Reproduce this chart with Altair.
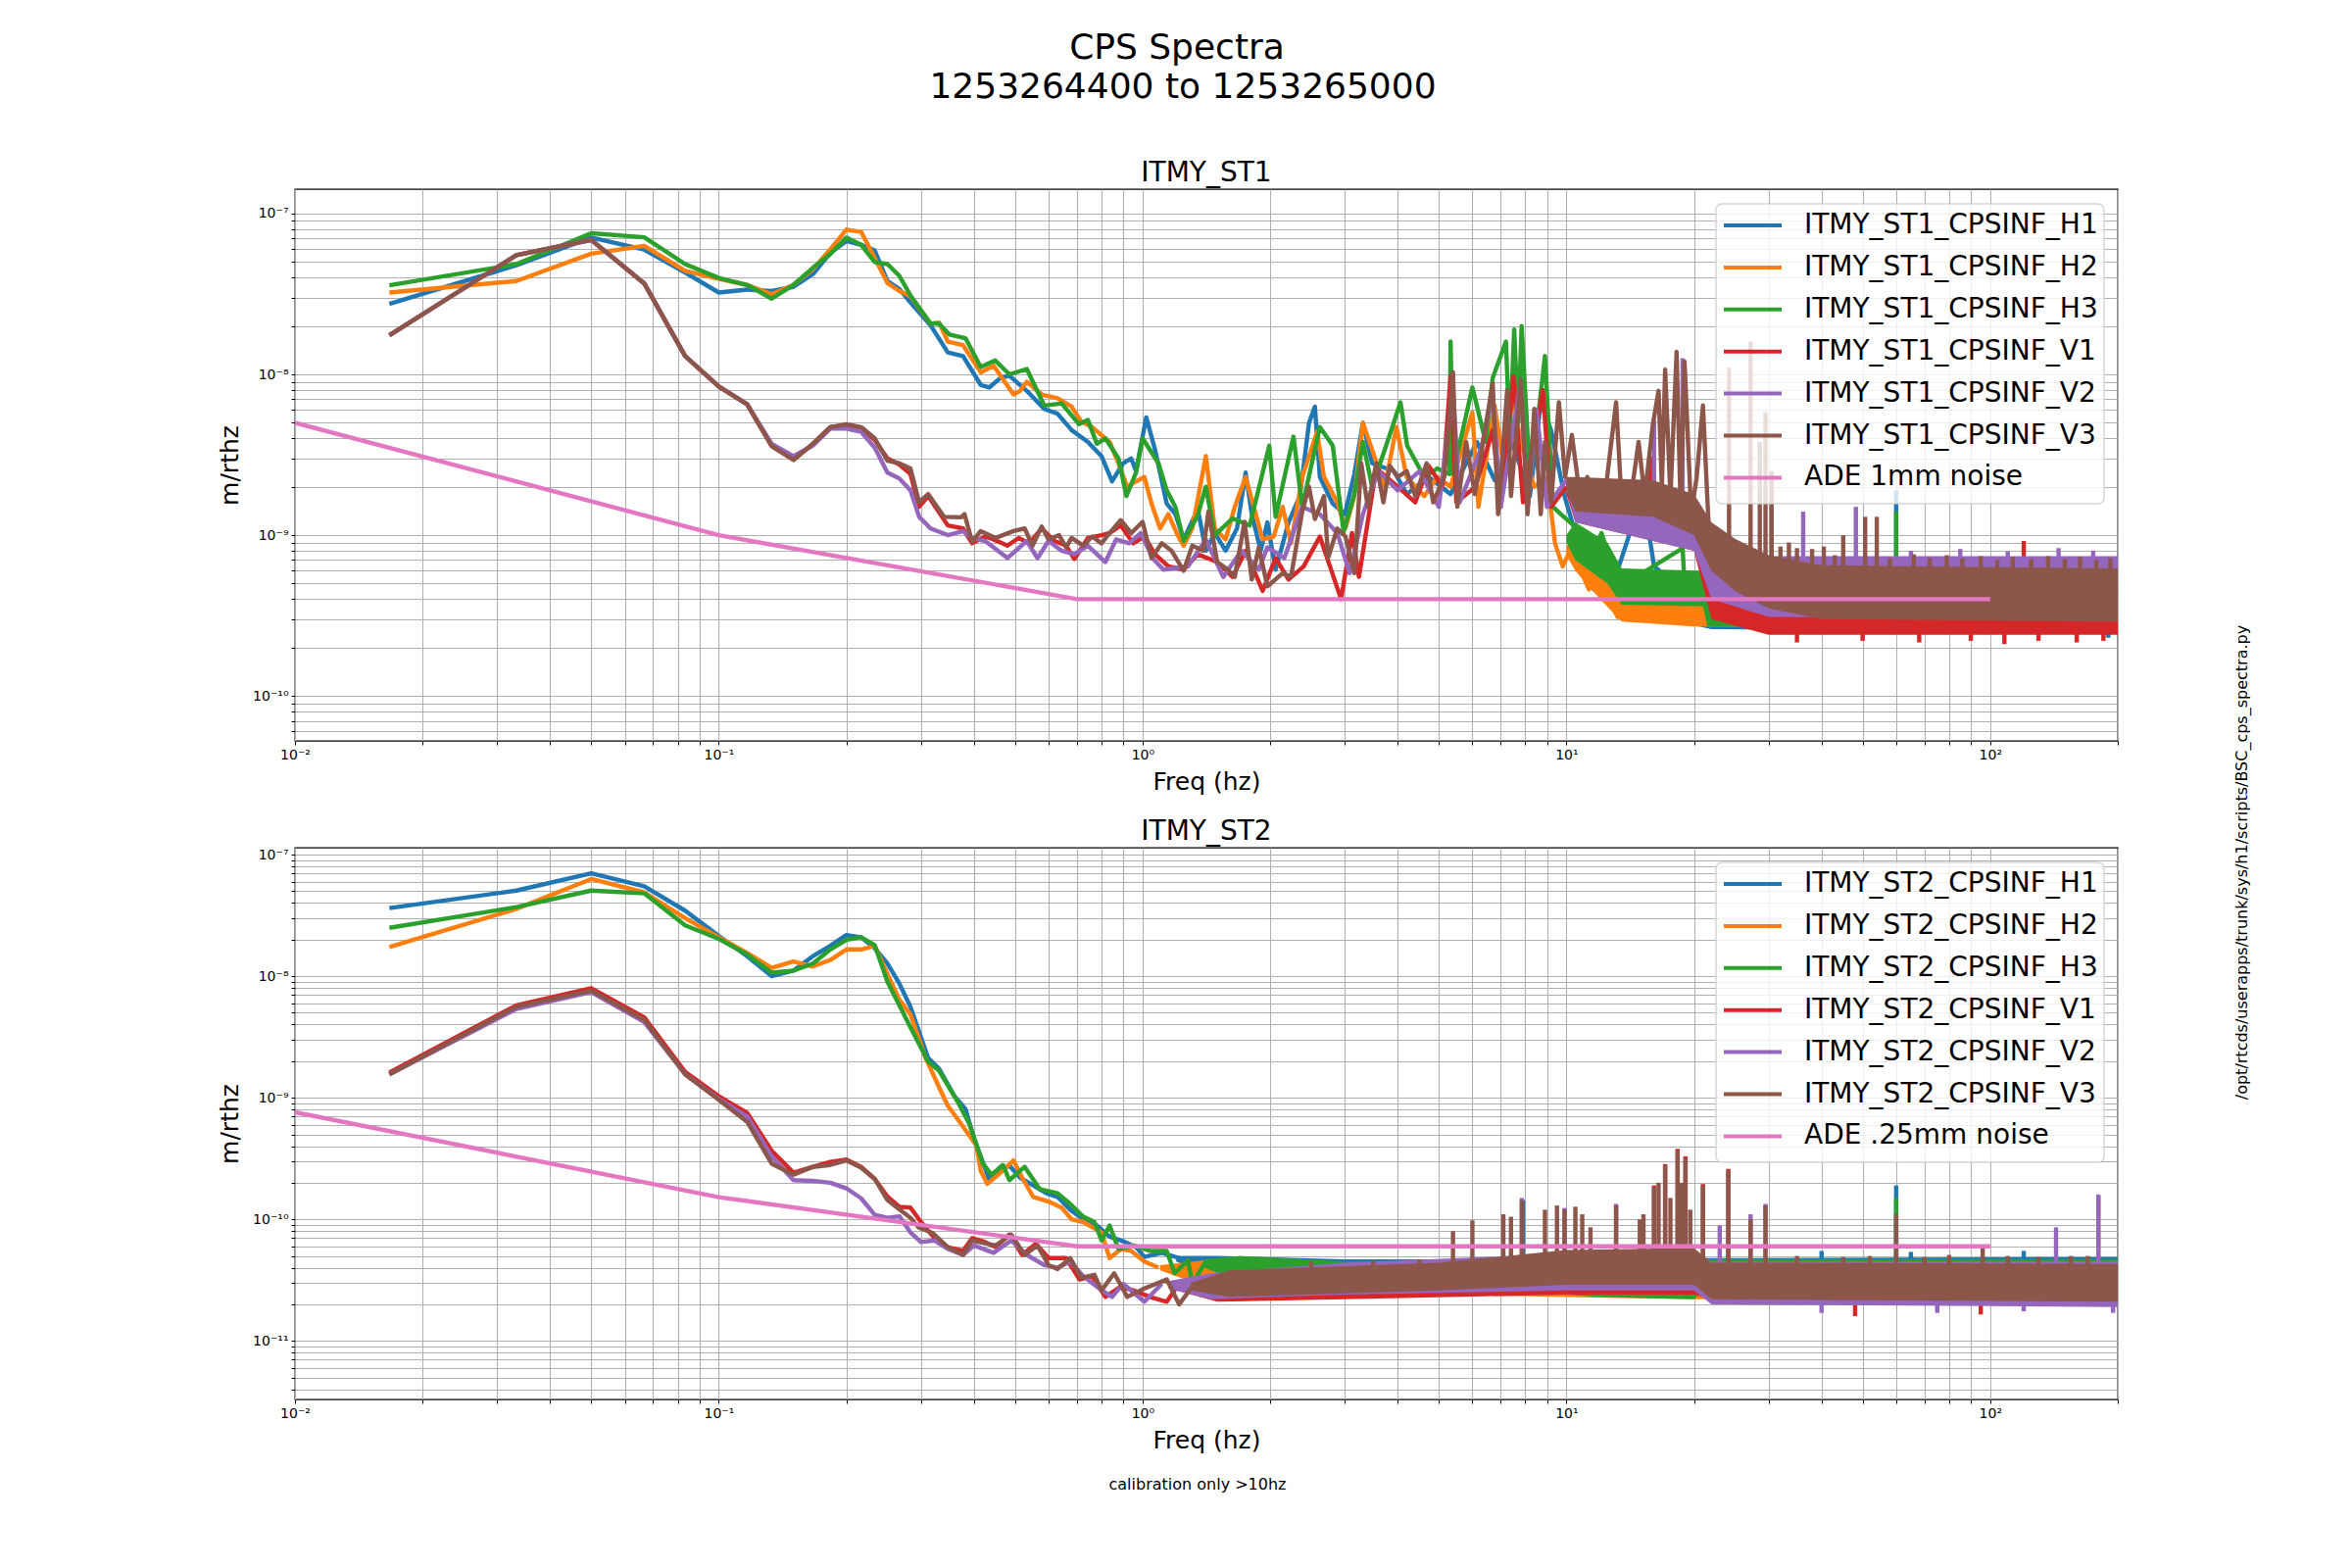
import altair as alt
import pandas as pd

# ---------------- data (values in nm/rtHz = 1e-9 m/rtHz) ----------------
F_LOW = [0.0167, 0.0333, 0.05, 0.0667, 0.0833, 0.1, 0.1167, 0.1333, 0.15,
         0.1667, 0.1833, 0.2, 0.2167, 0.2333, 0.25, 0.2667, 0.2833]

# ---- ITMY_ST1 ----
T_H1_LOW = [27.4, 47.7, 71, 59.7, 43, 32.3, 33.7, 33, 35, 42, 57, 67.6, 64, 59, 38, 34, 28]
T_H2_LOW = [32.3, 38.1, 56.3, 63, 44.1, 39.2, 36, 31.5, 36, 45, 60, 79.5, 77, 53, 37, 33, 30.6]
T_H3_LOW = [35.8, 48.5, 75.5, 71.3, 48.5, 39.8, 36, 29.6, 36, 46, 56, 71, 64, 50, 48.5, 41, 31]
T_V1_LOW = [17.5, 55.2, 68.7, 36.8, 13, 8.4, 6.5, 3.58, 2.94, 3.7, 4.7, 4.8, 4.64, 3.9, 3.0, 2.75, 2.4]
T_V2_LOW = [17.5, 55.2, 68.7, 36.8, 13, 8.4, 6.5, 3.7, 3.1, 3.6, 4.6, 4.6, 4.4, 3.5, 2.45, 2.25, 1.9]
T_V3_LOW = [17.5, 55.2, 68.7, 36.8, 13, 8.4, 6.5, 3.58, 2.94, 3.7, 4.7, 4.9, 4.7, 4.0, 2.9, 2.8, 2.6]

T_H1_MID = [(0.316, 20.2), (0.347, 13.7), (0.377, 13), (0.415, 8.6), (0.435, 8.3), (0.462, 9.5),
            (0.485, 9.8), (0.533, 7.9), (0.586, 6.1), (0.63, 5.7), (0.68, 4.5), (0.743, 3.8),
            (0.8, 3.1), (0.847, 2.16), (0.9, 2.8), (0.94, 3.0), (0.965, 2.5), (1.02, 5.4),
            (1.07, 3.4), (1.14, 1.57), (1.195, 1.35), (1.25, 0.94), (1.35, 1.45), (1.41, 0.8),
            (1.48, 1.03), (1.57, 0.8), (1.67, 1.1), (1.75, 2.45), (1.81, 1.35), (1.9, 0.8),
            (1.97, 1.2), (2.06, 0.61), (2.21, 1.2), (2.35, 1.75), (2.47, 5.0), (2.55, 6.3),
            (2.62, 2.3), (2.81, 1.57), (3.0, 1.35), (3.16, 2.4), (3.31, 5.0), (3.48, 2.8),
            (3.92, 2.5), (4.2, 1.8), (4.73, 2.3), (5.33, 1.8), (6.15, 3.8), (6.77, 2.2),
            (7.45, 3.8), (8.2, 1.75), (8.7, 6.7), (9.2, 4.5), (9.9, 1.75), (10.8, 0.8),
            (11.6, 0.53), (12.1, 0.55), (12.9, 0.5), (14.6, 1.35), (15.1, 1.5), (15.6, 1.1),
            (16.1, 0.64), (18.8, 0.46), (21, 0.36), (25, 0.35), (200, 0.35)]
T_H2_MID = [(0.316, 20.7), (0.331, 21), (0.347, 16), (0.377, 15.2), (0.415, 10.3), (0.445, 11.3),
            (0.496, 7.5), (0.514, 7.9), (0.533, 9.0), (0.578, 7.5), (0.63, 7.1), (0.68, 6.3),
            (0.716, 5.1), (0.76, 4.7), (0.836, 3.8), (0.877, 2.8), (0.92, 2.0), (0.965, 2.16),
            (1.01, 2.3), (1.05, 1.57), (1.1, 1.1), (1.15, 1.35), (1.21, 1.0), (1.25, 0.86),
            (1.31, 1.1), (1.41, 3.1), (1.48, 1.1), (1.57, 0.94), (1.65, 1.5), (1.75, 2.3),
            (1.83, 1.5), (1.92, 0.94), (2.04, 0.98), (2.14, 1.5), (2.24, 0.89), (2.38, 2.3),
            (2.5, 3.4), (2.58, 4.4), (2.68, 2.3), (2.88, 1.6), (3.01, 1.1), (3.16, 1.75),
            (3.31, 5.0), (3.48, 3.4), (3.73, 2.0), (3.97, 4.7), (4.2, 2.3), (4.62, 1.75),
            (4.96, 2.3), (5.33, 2.0), (5.73, 3.8), (6.0, 5.8), (6.2, 1.5), (6.77, 6.4),
            (7.1, 2.8), (7.45, 7.9), (7.8, 3.8), (8.4, 2.0), (9.0, 2.3), (9.4, 0.89),
            (9.8, 0.64), (10.2, 0.8), (10.8, 0.61), (11.3, 0.46), (11.8, 0.57), (12.6, 0.4),
            (13.2, 0.31), (20, 0.34), (200, 0.34)]
T_H3_MID = [(0.316, 20.7), (0.331, 20.7), (0.35, 17.7), (0.382, 16.8), (0.415, 11.1), (0.449, 12.2),
            (0.485, 10.0), (0.533, 10.8), (0.586, 6.4), (0.644, 6.6), (0.708, 4.9), (0.743, 5.2),
            (0.78, 3.7), (0.817, 4.0), (0.877, 3.0), (0.916, 1.75), (0.965, 2.45), (1.0, 4.0),
            (1.09, 2.8), (1.14, 1.9), (1.195, 1.5), (1.25, 0.92), (1.35, 1.33), (1.41, 2.0),
            (1.48, 1.0), (1.63, 1.27), (1.79, 1.15), (1.99, 3.6), (2.06, 1.3), (2.27, 4.1),
            (2.38, 1.5), (2.62, 4.7), (2.81, 3.6), (2.98, 1.05), (3.16, 1.8), (3.31, 3.8),
            (3.48, 2.0), (3.83, 4.2), (4.06, 6.7), (4.21, 3.6), (4.62, 2.3), (4.96, 2.6),
            (5.3, 2.4), (5.33, 16), (5.4, 2.4), (6.0, 8.3), (6.45, 3.8), (6.7, 9.5),
            (7.2, 16), (7.35, 4.0), (7.53, 19), (7.7, 5.0), (7.84, 20), (8.2, 2.3),
            (8.6, 5.8), (8.9, 13), (9.3, 1.5), (9.7, 1.35), (10.4, 1.15), (10.8, 0.98),
            (11.6, 0.8), (12.1, 1.03), (12.9, 0.61), (13.8, 0.5), (18.8, 0.83), (19, 0.5),
            (21.5, 0.46), (22, 0.34), (200, 0.34)]
T_V1_MID = [(0.297, 1.5), (0.312, 1.75), (0.347, 1.15), (0.377, 1.1), (0.396, 0.89), (0.425, 0.98),
            (0.445, 0.94), (0.48, 0.86), (0.51, 0.96), (0.54, 0.89), (0.578, 1.1), (0.62, 0.92),
            (0.66, 0.86), (0.69, 0.71), (0.743, 0.96), (0.8, 1.0), (0.836, 1.03), (0.888, 1.15),
            (0.95, 0.89), (1.01, 0.98), (1.07, 0.76), (1.15, 0.64), (1.25, 0.61), (1.35, 0.76),
            (1.5, 0.68), (1.63, 0.55), (1.75, 0.8), (1.92, 0.45), (2.06, 0.72), (2.21, 0.53),
            (2.4, 0.64), (2.62, 0.98), (2.94, 0.4), (3.12, 1.03), (3.24, 0.55), (3.56, 2.6),
            (4.0, 2.0), (4.4, 1.6), (4.73, 2.7), (5.1, 2.0), (5.33, 9.7), (5.5, 1.6),
            (6.1, 2.0), (6.7, 4.5), (7.0, 1.5), (7.5, 9.7), (7.9, 1.6), (8.8, 8.0),
            (9.2, 1.5), (10, 2.0)]
T_V2_MID = [(0.297, 1.3), (0.316, 1.1), (0.347, 1.0), (0.377, 1.06), (0.396, 0.96), (0.425, 0.92),
            (0.48, 0.72), (0.533, 0.92), (0.565, 0.72), (0.6, 0.92), (0.644, 0.8), (0.69, 0.76),
            (0.743, 0.86), (0.817, 0.68), (0.866, 0.94), (0.93, 0.89), (0.99, 1.03), (1.06, 0.71),
            (1.12, 0.61), (1.28, 0.64), (1.41, 0.94), (1.55, 0.55), (1.71, 0.8), (1.88, 0.61),
            (1.97, 0.84), (2.16, 0.72), (2.38, 1.5), (2.62, 1.35), (2.88, 1.03), (3.08, 0.58),
            (3.31, 1.35), (3.6, 2.5), (4.0, 1.9), (4.5, 2.5), (5.0, 1.5), (5.4, 8.0),
            (5.6, 1.6), (6.3, 3.5), (6.7, 7.5), (7.0, 1.5), (7.8, 9.0), (8.1, 1.5),
            (8.5, 6.0), (9.0, 1.5), (10, 2.2)]
T_V3_MID = [(0.297, 1.6), (0.312, 1.8), (0.34, 1.3), (0.373, 1.29), (0.38, 1.35), (0.396, 0.91),
            (0.415, 1.06), (0.45, 0.96), (0.496, 1.06), (0.527, 1.1), (0.55, 0.86), (0.578, 1.13),
            (0.6, 0.94), (0.635, 1.0), (0.66, 0.84), (0.68, 0.96), (0.725, 0.86), (0.76, 0.98),
            (0.8, 0.89), (0.836, 1.03), (0.888, 1.24), (0.94, 1.03), (1.0, 1.21), (1.05, 0.72),
            (1.11, 0.89), (1.17, 0.8), (1.25, 0.6), (1.31, 0.86), (1.39, 0.8), (1.43, 1.4),
            (1.5, 0.68), (1.59, 0.61), (1.65, 0.55), (1.74, 1.21), (1.81, 0.53), (1.88, 0.84),
            (1.97, 0.48), (2.14, 0.58), (2.24, 0.55), (2.38, 1.4), (2.47, 2.0), (2.55, 1.26),
            (2.68, 1.75), (2.74, 0.72), (2.88, 1.1), (3.01, 0.98), (3.16, 0.58), (3.28, 2.8),
            (3.4, 1.5), (3.56, 2.8), (3.7, 1.6), (3.83, 2.7), (4.0, 2.3), (4.2, 2.5),
            (4.4, 1.75), (4.68, 2.8), (4.85, 1.6), (5.15, 2.3), (5.4, 10.3), (5.53, 1.5),
            (5.8, 3.8), (6.08, 1.8), (6.38, 4.0), (6.7, 8.8), (6.9, 1.35), (7.25, 8.0),
            (7.4, 1.75), (7.8, 9.3), (8.1, 1.35), (8.4, 6.1), (8.7, 1.35), (8.9, 3.8),
            (9.2, 1.6), (9.6, 6.7), (9.93, 2.3), (10.3, 4.2), (10.8, 1.65), (11.2, 2.3),
            (11.8, 1.5), (12.4, 2.0), (13.1, 6.7), (13.5, 1.6), (14.1, 1.5), (14.8, 3.8),
            (15.3, 1.75), (16.0, 4.9), (16.5, 7.9), (16.8, 2.0), (17.1, 10.7), (17.6, 1.75),
            (18.2, 13.8), (18.6, 1.5), (19.0, 12.0), (19.7, 1.35), (20.3, 2.3), (21.0, 6.4),
            (21.7, 1.03), (22.9, 0.98), (24.0, 0.8), (26.0, 0.6), (30.0, 0.5), (40.0, 0.45),
            (200.0, 0.45)]

# noise bands (f, low, high)
T_H1_BAND = [(11, 0.6, 0.75), (11.5, 0.45, 0.9), (13, 0.38, 0.6), (17, 0.3, 0.55), (22, 0.26, 0.45),
             (200, 0.25, 0.45)]
T_H2_BAND = [(10, 0.75, 0.85), (10.5, 0.6, 1.0), (12, 0.4, 0.65), (13.5, 0.29, 0.45), (20, 0.27, 0.42),
             (200, 0.26, 0.43)]
T_H3_BAND = [(10, 0.9, 1.0), (10.5, 0.7, 1.2), (12.5, 0.5, 0.9), (13.5, 0.37, 0.62), (21, 0.36, 0.6),
             (21.5, 0.27, 0.42), (200, 0.26, 0.43)]
T_V1_BAND = [(10, 1.8, 2.1), (10.5, 1.2, 2.2), (20, 0.8, 1.6), (22, 0.3, 0.6), (30, 0.24, 0.46),
             (200, 0.24, 0.46)]
T_V2_BAND = [(10, 2.0, 2.3), (10.5, 1.2, 2.2), (20, 0.8, 1.6), (22, 0.4, 0.8), (30, 0.31, 0.74),
             (200, 0.3, 0.74)]
T_V3_BAND = [(10, 1.9, 2.3), (10.5, 1.4, 2.3), (16, 1.3, 2.2), (20, 1.0, 1.8), (22, 0.6, 1.2),
             (25, 0.45, 0.95), (30, 0.35, 0.75), (40, 0.3, 0.65), (200, 0.29, 0.62)]

# narrow lines (f, base, peak)
T_H1_SPK = [(60, 0.35, 1.9), (190, 0.23, 0.3)]
T_H2_SPK = []
T_H3_SPK = [(60, 0.35, 1.4)]
T_V1_SPK = [(15.8, 1.5, 3.1), (120, 0.35, 0.92), (35, 0.215, 0.3), (50, 0.22, 0.3), (68, 0.215, 0.3),
            (90, 0.22, 0.3), (108, 0.21, 0.3), (130, 0.22, 0.3), (160, 0.215, 0.3), (185, 0.22, 0.3)]
T_V2_SPK = [(16.1, 1.5, 5.2), (18.8, 1.5, 12.6), (36.2, 0.5, 1.4), (48.2, 0.5, 1.5), (65, 0.5, 0.8),
            (85, 0.5, 0.82), (110, 0.5, 0.79), (145, 0.5, 0.83), (175, 0.5, 0.8)]
T_V3_SPK = [(24.2, 0.8, 11), (27.2, 0.6, 16), (28.6, 0.6, 3.8), (29.5, 0.6, 5.8), (30.5, 0.5, 2.5),
            (35, 0.45, 0.83), (45, 0.45, 1.0), (50.7, 0.45, 1.3), (54, 0.45, 1.3),
            (32, 0.45, 0.85), (33.5, 0.45, 0.9), (38, 0.45, 0.82), (40.5, 0.45, 0.85), (43, 0.4, 0.75),
            (58, 0.4, 0.72), (66, 0.4, 0.76), (72, 0.4, 0.72), (79, 0.4, 0.75), (86, 0.4, 0.72),
            (95, 0.4, 0.74), (104, 0.4, 0.7), (113, 0.4, 0.73), (125, 0.4, 0.71), (137, 0.4, 0.74),
            (150, 0.4, 0.71), (163, 0.4, 0.73), (178, 0.4, 0.7), (192, 0.4, 0.72)]

# ---- ITMY_ST2 ----
B_H1_LOW = [36.3, 50.6, 70.3, 55, 34.6, 21.4, 14.6, 10.0, 11.1, 14.6, 17.8, 21.8, 20.9, 17, 12.7, 8.7, 5.6]
B_H2_LOW = [17.4, 35.8, 63, 49, 30, 20.9, 15.5, 11.7, 13.2, 12, 13.6, 16.6, 16.6, 17.8, 10.4, 6.4, 4.85]
B_H3_LOW = [25, 37, 50.6, 48, 26.2, 20.3, 15.1, 10.7, 11.1, 12.7, 16.6, 19.9, 20.9, 18, 9.0, 5.76, 3.8]
B_V1_LOW = [1.61, 5.76, 7.96, 4.59, 1.63, 1.03, 0.75, 0.366, 0.242, 0.27, 0.297, 0.31, 0.27, 0.215,
            0.154, 0.127, 0.125]
B_V2_LOW = [1.56, 5.37, 7.4, 4.2, 1.56, 0.98, 0.70, 0.33, 0.21, 0.207, 0.20, 0.18, 0.149, 0.109,
            0.103, 0.106, 0.078]
B_V3_LOW = [1.56, 5.6, 7.6, 4.37, 1.56, 0.96, 0.634, 0.287, 0.233, 0.27, 0.28, 0.305, 0.266, 0.215,
            0.144, 0.121, 0.103]

B_H1_MID = [(0.312, 2.12), (0.331, 1.73), (0.36, 1.03), (0.382, 0.807), (0.4, 0.466), (0.415, 0.33),
            (0.435, 0.21), (0.456, 0.242), (0.485, 0.277), (0.514, 0.22), (0.552, 0.19), (0.593, 0.164),
            (0.63, 0.153), (0.675, 0.12), (0.725, 0.1), (0.78, 0.089), (0.836, 0.072), (0.9, 0.066),
            (0.965, 0.059), (1.01, 0.049), (1.11, 0.053), (1.22, 0.048)]
B_H2_MID = [(0.308, 2.1), (0.331, 1.22), (0.347, 0.86), (0.373, 0.61), (0.405, 0.406), (0.415, 0.25),
            (0.43, 0.196), (0.456, 0.232), (0.496, 0.305), (0.52, 0.22), (0.552, 0.153), (0.6, 0.14),
            (0.644, 0.125), (0.68, 0.1), (0.725, 0.095), (0.8, 0.078), (0.836, 0.048), (0.89, 0.057),
            (0.94, 0.055), (1.01, 0.045), (1.09, 0.04)]
B_H3_MID = [(0.312, 1.98), (0.331, 1.67), (0.366, 0.93), (0.39, 0.61), (0.42, 0.287), (0.44, 0.233),
            (0.468, 0.28), (0.485, 0.21), (0.527, 0.27), (0.572, 0.177), (0.63, 0.164), (0.675, 0.134),
            (0.725, 0.105), (0.77, 0.095), (0.8, 0.067), (0.836, 0.089), (0.877, 0.057), (0.953, 0.061),
            (1.04, 0.055), (1.14, 0.055), (1.19, 0.036), (1.28, 0.046), (1.31, 0.0295), (1.41, 0.045)]
B_V1_MID = [(0.3, 0.095), (0.323, 0.07), (0.347, 0.059), (0.377, 0.055), (0.396, 0.07), (0.425, 0.065),
            (0.45, 0.059), (0.485, 0.075), (0.52, 0.051), (0.56, 0.063), (0.6, 0.048), (0.66, 0.048),
            (0.71, 0.032), (0.76, 0.034), (0.817, 0.023), (0.888, 0.028), (0.953, 0.026), (1.04, 0.023),
            (1.14, 0.021), (1.22, 0.0295)]
B_V2_MID = [(0.3, 0.065), (0.323, 0.067), (0.347, 0.057), (0.377, 0.051), (0.4, 0.061), (0.445, 0.053),
            (0.49, 0.067), (0.533, 0.051), (0.586, 0.042), (0.63, 0.04), (0.675, 0.045), (0.725, 0.034),
            (0.79, 0.027), (0.847, 0.023), (0.9, 0.0295), (1.01, 0.021), (1.11, 0.0295)]
B_V3_MID = [(0.296, 0.086), (0.32, 0.077), (0.347, 0.059), (0.377, 0.051), (0.396, 0.067), (0.43, 0.063),
            (0.45, 0.061), (0.49, 0.075), (0.527, 0.051), (0.565, 0.061), (0.6, 0.042), (0.63, 0.039),
            (0.675, 0.048), (0.717, 0.033), (0.77, 0.035), (0.8, 0.026), (0.857, 0.036), (0.92, 0.023),
            (1.01, 0.027), (1.14, 0.032), (1.22, 0.02), (1.31, 0.028)]

B_H1_BAND = [(1.2, 0.045, 0.05), (1.5, 0.032, 0.05), (3, 0.028, 0.047), (10, 0.028, 0.047), (20, 0.027, 0.048),
             (200, 0.026, 0.049)]
B_H2_BAND = [(1.1, 0.038, 0.042), (1.4, 0.028, 0.046), (3, 0.025, 0.043), (10, 0.023, 0.044), (20, 0.022, 0.045),
             (200, 0.023, 0.046)]
B_H3_BAND = [(1.4, 0.04, 0.047), (1.7, 0.03, 0.05), (3, 0.026, 0.045), (10, 0.024, 0.045), (12, 0.023, 0.041),
             (20, 0.022, 0.041), (20.5, 0.024, 0.047), (200, 0.024, 0.047)]
B_V1_BAND = [(1.2, 0.026, 0.03), (1.5, 0.021, 0.036), (3, 0.022, 0.038), (10, 0.024, 0.048), (20, 0.024, 0.05),
             (22, 0.022, 0.043), (200, 0.021, 0.043)]
B_V2_BAND = [(1.15, 0.027, 0.031), (1.45, 0.022, 0.036), (3, 0.024, 0.044), (10, 0.026, 0.052),
             (20, 0.026, 0.055), (22, 0.02, 0.045), (200, 0.019, 0.045)]
B_V3_BAND = [(1.3, 0.026, 0.03), (1.6, 0.023, 0.038), (5, 0.026, 0.044), (10, 0.029, 0.056), (20, 0.029, 0.058),
             (22, 0.022, 0.044), (200, 0.021, 0.043)]

B_H1_SPK = [(7.9, 0.04, 0.144), (60, 0.04, 0.19), (40, 0.04, 0.055), (65, 0.04, 0.054), (120, 0.04, 0.055)]
B_H2_SPK = [(180, 0.035, 0.155)]
B_H3_SPK = [(60, 0.04, 0.15)]
B_V1_SPK = [(16.1, 0.04, 0.19), (17.1, 0.04, 0.285), (18.3, 0.04, 0.38), (19.1, 0.04, 0.33), (21, 0.04, 0.195),
            (24.1, 0.04, 0.26), (48, 0.016, 0.025), (95, 0.0165, 0.025)]
B_V2_SPK = [(7.85, 0.04, 0.15), (9.9, 0.04, 0.124), (13.1, 0.04, 0.134), (23, 0.035, 0.089), (27.2, 0.035, 0.11),
            (29.5, 0.035, 0.134), (143, 0.035, 0.086), (180, 0.035, 0.16), (40, 0.017, 0.025),
            (75, 0.017, 0.025), (120, 0.0175, 0.025), (195, 0.017, 0.025)]
B_V3_SPK = [(5.4, 0.035, 0.08), (6.0, 0.035, 0.098), (7.1, 0.035, 0.11), (7.4, 0.035, 0.105), (7.85, 0.035, 0.144),
            (8.9, 0.04, 0.12), (9.5, 0.04, 0.13), (9.9, 0.04, 0.12), (10.5, 0.04, 0.127), (10.9, 0.04, 0.11),
            (11.4, 0.04, 0.086), (13.1, 0.04, 0.13), (14.9, 0.04, 0.1), (15.2, 0.04, 0.11), (16.1, 0.04, 0.184),
            (16.5, 0.04, 0.2), (17.1, 0.04, 0.28), (17.6, 0.04, 0.15), (18.3, 0.04, 0.37), (18.7, 0.04, 0.2),
            (19.1, 0.04, 0.32), (19.6, 0.04, 0.12), (21, 0.04, 0.19), (24.1, 0.035, 0.25), (27.2, 0.035, 0.1),
            (29.5, 0.035, 0.13), (60, 0.035, 0.11), (96, 0.035, 0.059),
            (2.5, 0.03, 0.045), (3.5, 0.03, 0.046), (4.5, 0.03, 0.047), (35, 0.03, 0.05), (45, 0.03, 0.049),
            (52, 0.03, 0.05), (70, 0.03, 0.049), (80, 0.03, 0.051), (110, 0.03, 0.05), (130, 0.03, 0.049),
            (155, 0.03, 0.05), (170, 0.03, 0.05)]

# ADE noise models
ADE_F = [0.01, 0.1, 0.7, 100]
T_ADE = [5.0, 1.0, 0.4, 0.4]
B_ADE = [0.76, 0.152, 0.06, 0.06]

T_NAMES = ["ITMY_ST1_CPSINF_H1", "ITMY_ST1_CPSINF_H2", "ITMY_ST1_CPSINF_H3", "ITMY_ST1_CPSINF_V1",
           "ITMY_ST1_CPSINF_V2", "ITMY_ST1_CPSINF_V3", "ADE 1mm noise"]
B_NAMES = ["ITMY_ST2_CPSINF_H1", "ITMY_ST2_CPSINF_H2", "ITMY_ST2_CPSINF_H3", "ITMY_ST2_CPSINF_V1",
           "ITMY_ST2_CPSINF_V2", "ITMY_ST2_CPSINF_V3", "ADE .25mm noise"]

SUPTITLE = ["CPS Spectra", "1253264400 to 1253265000"]
SIDE_TEXT = "/opt/rtcds/userapps/trunk/sys/h1/scripts/BSC_cps_spectra.py"
CALIB_TEXT = "calibration only >10hz"

# ---------------- styling ----------------
NM = 1e-9
COLORS = ["#1f77b4", "#ff7f0e", "#2ca02c", "#d62728", "#9467bd", "#8c564b", "#e377c2"]
FONT = "DejaVu Sans"
GRID = "#b0b0b0"
W, H = 1860, 563
X_DOMAIN = [0.01, 200]
T_YDOM = [5.25e-11, 1.42e-7]
B_YDOM = [3.3e-12, 1.14e-7]
LW = 4.4

SUP = {-12: "⁻¹²", -11: "⁻¹¹", -10: "⁻¹⁰", -9: "⁻⁹", -8: "⁻⁸", -7: "⁻⁷",
       -2: "⁻²", -1: "⁻¹", 0: "⁰", 1: "¹", 2: "²"}


def label_expr(exps):
    e = "round(log(datum.value)/LN10)"
    inner = " : ".join(f"{e} == {k} ? '10{SUP[k]}'" for k in exps) + " : ''"
    return f"abs(log(datum.value)/LN10 - {e}) < 0.001 ? ({inner}) : ''"


def log_ticks(lo, hi, nlo, nhi):
    vals = []
    for n in range(nlo, nhi + 1):
        for k in range(1, 10):
            v = float(f"{k}e{n}")
            if lo * 0.9999 <= v <= hi * 1.0001:
                vals.append(v)
    return vals


X_TICKS = log_ticks(X_DOMAIN[0], X_DOMAIN[1], -2, 2)


def x_enc():
    return alt.X("f:Q", scale=alt.Scale(type="log", domain=X_DOMAIN, nice=False),
                 axis=alt.Axis(values=X_TICKS, labelExpr=label_expr([-2, -1, 0, 1, 2]), title="Freq (hz)",
                               grid=True, gridColor=GRID, gridWidth=1.1, domain=False, tickColor="black",
                               tickSize=4, labelFont=FONT, labelFontSize=14, labelColor="black",
                               labelPadding=3, labelOverlap=False, labelFlush=False, titleFont=FONT,
                               titleFontSize=25, titleFontWeight="normal", titleColor="black",
                               titlePadding=8))


def y_enc(field, ydom):
    ticks = log_ticks(ydom[0], ydom[1], -12, -7)
    return alt.Y(f"{field}:Q", scale=alt.Scale(type="log", domain=ydom, nice=False),
                 axis=alt.Axis(values=ticks, labelExpr=label_expr([-12, -11, -10, -9, -8, -7]),
                               title="m/rthz", grid=True, gridColor=GRID, gridWidth=1.1, domain=False,
                               tickColor="black", tickSize=4, labelFont=FONT, labelFontSize=14,
                               labelColor="black", labelPadding=3, labelOverlap=False, labelFlush=False,
                               titleFont=FONT, titleFontSize=25, titleFontWeight="normal",
                               titleColor="black", titlePadding=10))


def series_layers(low, mid, band, spk, color, ydom):
    out = []
    line_df = pd.DataFrame({"f": F_LOW + [p[0] for p in mid],
                            "y": [v * NM for v in low + [p[1] for p in mid]]})
    if band:
        band_df = pd.DataFrame({"f": [b[0] for b in band], "lo": [b[1] * NM for b in band],
                                "hi": [b[2] * NM for b in band]})
        out.append(alt.Chart(band_df).mark_area(color=color, opacity=1, clip=True, interpolate="linear")
                   .encode(x=x_enc(), y=y_enc("hi", ydom), y2="lo:Q"))
    out.append(alt.Chart(line_df).mark_line(color=color, strokeWidth=LW, clip=True, strokeJoin="round")
               .encode(x=x_enc(), y=y_enc("y", ydom)))
    if spk:
        spk_df = pd.DataFrame({"f": [s[0] for s in spk], "lo": [s[1] * NM for s in spk],
                               "hi": [s[2] * NM for s in spk]})
        out.append(alt.Chart(spk_df).mark_rule(color=color, strokeWidth=LW, clip=True, strokeCap="butt")
                   .encode(x=x_enc(), y=y_enc("hi", ydom), y2="lo:Q"))
    return out


def legend_layers(names):
    leg = pd.DataFrame({"name": names, "i": list(range(len(names))), "color": COLORS})
    box = alt.Chart(pd.DataFrame({"k": [0]})).mark_rect(
        fill="white", fillOpacity=0.8, stroke="#cccccc", strokeOpacity=0.8, strokeWidth=1.5,
        cornerRadius=6).encode(x=alt.value(1450), x2=alt.value(1846), y=alt.value(15), y2=alt.value(321))
    rules = alt.Chart(leg).transform_calculate(py="37 + 42.9 * datum.i").mark_rule(strokeWidth=4).encode(
        x=alt.value(1458), x2=alt.value(1517), y=alt.Y("py:Q", scale=None, axis=None),
        color=alt.Color("color:N", scale=None, legend=None))
    texts = alt.Chart(leg).transform_calculate(py="37 + 42.9 * datum.i").mark_text(
        align="left", baseline="middle", fontSize=28, font=FONT, color="black").encode(
        x=alt.value(1540), y=alt.Y("py:Q", scale=None, axis=None), text="name:N")
    return [box, rules, texts]


def text_layer(txt, x, y, size, angle=0):
    kw = dict(fontSize=size, font=FONT, align="center", baseline="alphabetic", color="black")
    if angle:
        kw.update(angle=angle, baseline="middle")
    return alt.Chart(pd.DataFrame({"t": [txt]})).mark_text(**kw).encode(
        x=alt.value(x), y=alt.value(y), text="t:N")


def panel(title, lows, mids, bands, spks, ade, ydom, names, extra=()):
    layers = []
    for i in range(6):
        layers += series_layers(lows[i], mids[i], bands[i], spks[i], COLORS[i], ydom)
    ade_df = pd.DataFrame({"f": ADE_F, "y": [v * NM for v in ade]})
    layers.append(alt.Chart(ade_df).mark_line(color=COLORS[6], strokeWidth=LW, clip=True)
                  .encode(x=x_enc(), y=y_enc("y", ydom)))
    layers += legend_layers(names)
    layers.append(text_layer(title, W / 2, -8, 28))
    layers += list(extra)
    return alt.layer(*layers).properties(width=W, height=H)


top = panel("ITMY_ST1",
            [T_H1_LOW, T_H2_LOW, T_H3_LOW, T_V1_LOW, T_V2_LOW, T_V3_LOW],
            [T_H1_MID, T_H2_MID, T_H3_MID, T_V1_MID, T_V2_MID, T_V3_MID],
            [T_H1_BAND, T_H2_BAND, T_H3_BAND, T_V1_BAND, T_V2_BAND, T_V3_BAND],
            [T_H1_SPK, T_H2_SPK, T_H3_SPK, T_V1_SPK, T_V2_SPK, T_V3_SPK],
            T_ADE, T_YDOM, T_NAMES,
            extra=[text_layer(SUPTITLE[0], 900, -133, 36),
                   text_layer(SUPTITLE[1], 906, -93, 36),
                   text_layer(SIDE_TEXT, 1987, 687, 16, angle=270)])

bottom = panel("ITMY_ST2",
               [B_H1_LOW, B_H2_LOW, B_H3_LOW, B_V1_LOW, B_V2_LOW, B_V3_LOW],
               [B_H1_MID, B_H2_MID, B_H3_MID, B_V1_MID, B_V2_MID, B_V3_MID],
               [B_H1_BAND, B_H2_BAND, B_H3_BAND, B_V1_BAND, B_V2_BAND, B_V3_BAND],
               [B_H1_SPK, B_H2_SPK, B_H3_SPK, B_V1_SPK, B_V2_SPK, B_V3_SPK],
               B_ADE, B_YDOM, B_NAMES,
               extra=[text_layer(CALIB_TEXT, 921, 655, 16)])

chart = alt.vconcat(top, bottom, spacing=109, bounds="flush").properties(
    padding={"left": 213, "top": 22, "right": 10, "bottom": 10}, background="white"
).configure(font=FONT).configure_view(stroke="black", strokeWidth=1.3)

chart.save("out.html", embed_options={"renderer": "svg", "actions": False})
